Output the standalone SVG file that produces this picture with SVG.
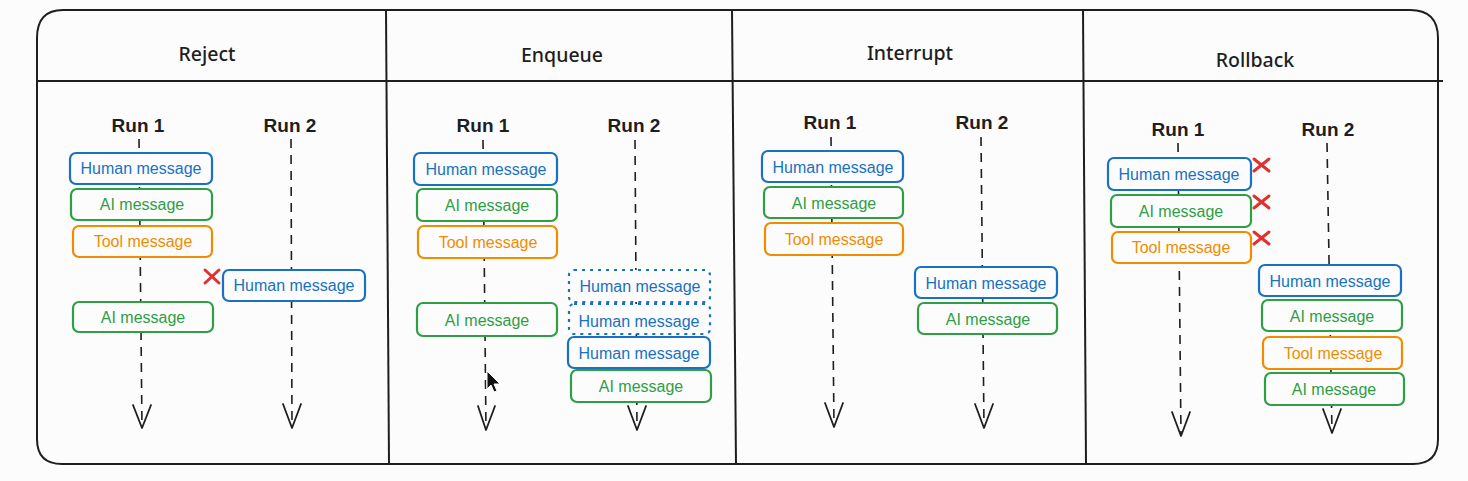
<svg xmlns="http://www.w3.org/2000/svg" width="1468" height="481" viewBox="0 0 1468 481">
<style>
.frame{fill:none;stroke:#1e1e1e;stroke-width:2}
.hdr{font-family:"Noto Sans","Liberation Sans",sans-serif;font-size:19.5px;font-weight:500;fill:#1e1e1e;text-anchor:middle;dominant-baseline:central}
.run{font-family:"Liberation Sans",Arial,sans-serif;font-weight:bold;font-size:19px;fill:#1e1e1e;text-anchor:middle;dominant-baseline:central}
.msg{font-family:"Liberation Sans",Arial,sans-serif;font-size:16px;text-anchor:middle;dominant-baseline:central}
.box{fill:#fcfcfd;stroke-width:2.2}
.h rect{stroke:#1971c2}.h text{fill:#1971c2}
.a rect{stroke:#2f9e44}.a text{fill:#2f9e44}
.t rect{stroke:#f08c00}.t text{fill:#f08c00}
.d rect{stroke:#1971c2;stroke-dasharray:3 5;stroke-width:2.2}
.life{stroke:#1e1e1e;stroke-width:1.6;stroke-dasharray:9 7;fill:none}
.head{stroke:#1e1e1e;stroke-width:1.8;fill:none;stroke-linejoin:round;stroke-linecap:round}
.x{stroke:#e03131;stroke-width:3;stroke-linecap:round}
</style>
<rect width="1468" height="481" fill="#fcfcfd"/>
<g id="frame">
<path class="frame" d="M63 10 H1410 Q1438 10 1438 38 V439 Q1438 464 1413 464 H62 Q37 464 37 439 V38 Q37 10 63 10 Z"/>
<line class="frame" x1="37" y1="81" x2="1443" y2="81"/>
<line class="frame" x1="386" y1="10" x2="389" y2="464"/>
<line class="frame" x1="732" y1="10" x2="736" y2="464"/>
<line class="frame" x1="1083" y1="10" x2="1086" y2="464"/>
<text class="hdr" x="207" y="53">Reject</text>
<text class="hdr" x="562" y="54">Enqueue</text>
<text class="hdr" x="910" y="52">Interrupt</text>
<text class="hdr" x="1255" y="59">Rollback</text>
</g>
<g id="connectors">
<line class="life" x1="139" y1="139" x2="142" y2="428"/>
<polyline class="head" points="133,405 142,428 151,405"/>
<line class="life" x1="291" y1="139" x2="292" y2="428"/>
<polyline class="head" points="283,404 292,428 301,404"/>
<line class="life" x1="483" y1="140" x2="486" y2="430"/>
<polyline class="head" points="478,406 486,430 495,406"/>
<line class="life" x1="635" y1="140" x2="637" y2="430"/>
<polyline class="head" points="628,406 637,430 646,406"/>
<line class="life" x1="831" y1="137" x2="834" y2="427"/>
<polyline class="head" points="825,403 834,427 843,403"/>
<line class="life" x1="981" y1="137" x2="984" y2="428"/>
<polyline class="head" points="975,404 984,428 993,404"/>
<line class="life" x1="1178" y1="143" x2="1181" y2="436"/>
<polyline class="head" points="1172,412 1181,436 1190,412"/>
<line class="life" x1="1327" y1="143" x2="1332" y2="433"/>
<polyline class="head" points="1323,409 1332,433 1341,409"/>
</g>
<g id="run-labels">
<text class="run" x="138" y="125">Run 1</text>
<text class="run" x="290" y="125">Run 2</text>
<text class="run" x="483" y="125">Run 1</text>
<text class="run" x="634" y="125">Run 2</text>
<text class="run" x="830" y="122">Run 1</text>
<text class="run" x="982" y="122">Run 2</text>
<text class="run" x="1178" y="129">Run 1</text>
<text class="run" x="1328" y="129">Run 2</text>
</g>
<!-- Reject -->
<g id="rej-r1-human" class="h"><rect class="box" x="70" y="153" width="142" height="31" rx="6"/><text class="msg" x="141" y="168">Human message</text></g>
<g id="rej-r1-ai" class="a"><rect class="box" x="71" y="189" width="141" height="31" rx="6"/><text class="msg" x="142" y="204">AI message</text></g>
<g id="rej-r1-tool" class="t"><rect class="box" x="73" y="226" width="139" height="31" rx="6"/><text class="msg" x="143" y="241">Tool message</text></g>
<g id="rej-r1-ai2" class="a"><rect class="box" x="73" y="302" width="140" height="30" rx="6"/><text class="msg" x="143" y="317">AI message</text></g>
<g id="rej-r2-human" class="h"><rect class="box" x="223" y="270" width="142" height="31" rx="6"/><text class="msg" x="294" y="285">Human message</text></g>
<g id="rej-x"><line class="x" x1="205" y1="270" x2="219" y2="283"/><line class="x" x1="205" y1="283" x2="219" y2="270"/></g>
<!-- Enqueue -->
<g id="enq-r1-human" class="h"><rect class="box" x="414" y="153" width="143" height="32" rx="6"/><text class="msg" x="486" y="169">Human message</text></g>
<g id="enq-r1-ai" class="a"><rect class="box" x="417" y="189" width="140" height="32" rx="6"/><text class="msg" x="487" y="205">AI message</text></g>
<g id="enq-r1-tool" class="t"><rect class="box" x="418" y="226" width="139" height="32" rx="6"/><text class="msg" x="488" y="242">Tool message</text></g>
<g id="enq-r1-ai2" class="a"><rect class="box" x="417" y="303" width="140" height="33" rx="6"/><text class="msg" x="487" y="320">AI message</text></g>
<g id="enq-r2-human-q1" class="d"><rect x="569" y="270" width="141" height="32" rx="5" fill="#fcfcfd"/><text class="msg" x="640" y="286" fill="#1971c2">Human message</text></g>
<g id="enq-r2-human-q2" class="d"><rect x="569" y="304" width="141" height="30" rx="5" fill="#fcfcfd"/><text class="msg" x="639" y="321" fill="#1971c2">Human message</text></g>
<g id="enq-r2-human" class="h"><rect class="box" x="568" y="337" width="142" height="31" rx="6"/><text class="msg" x="639" y="353">Human message</text></g>
<g id="enq-r2-ai" class="a"><rect class="box" x="571" y="370" width="140" height="32" rx="6"/><text class="msg" x="641" y="386">AI message</text></g>
<g id="cursor"><path d="M487 371 V389 L491 385 L494 392 L497 391 L494 384 L500 384 Z" fill="#111" stroke="#fff" stroke-width="1"/></g>
<!-- Interrupt -->
<g id="int-r1-human" class="h"><rect class="box" x="762" y="151" width="141" height="31" rx="6"/><text class="msg" x="833" y="167">Human message</text></g>
<g id="int-r1-ai" class="a"><rect class="box" x="764" y="187" width="139" height="31" rx="6"/><text class="msg" x="834" y="203">AI message</text></g>
<g id="int-r1-tool" class="t"><rect class="box" x="765" y="223" width="138" height="32" rx="6"/><text class="msg" x="834" y="239">Tool message</text></g>
<g id="int-r2-human" class="h"><rect class="box" x="915" y="267" width="142" height="31" rx="6"/><text class="msg" x="986" y="283">Human message</text></g>
<g id="int-r2-ai" class="a"><rect class="box" x="918" y="303" width="139" height="31" rx="6"/><text class="msg" x="988" y="319">AI message</text></g>
<!-- Rollback -->
<g id="rb-r1-human" class="h"><rect class="box" x="1108" y="158" width="143" height="32" rx="6"/><text class="msg" x="1179" y="174">Human message</text></g>
<g id="rb-r1-ai" class="a"><rect class="box" x="1111" y="195" width="140" height="32" rx="6"/><text class="msg" x="1181" y="211">AI message</text></g>
<g id="rb-r1-tool" class="t"><rect class="box" x="1112" y="232" width="139" height="31" rx="6"/><text class="msg" x="1181" y="247">Tool message</text></g>
<g id="rb-x"><line class="x" x1="1254" y1="159" x2="1269" y2="171"/><line class="x" x1="1254" y1="171" x2="1269" y2="159"/><line class="x" x1="1254" y1="196" x2="1269" y2="208"/><line class="x" x1="1254" y1="208" x2="1269" y2="196"/><line class="x" x1="1254" y1="232" x2="1269" y2="244"/><line class="x" x1="1254" y1="244" x2="1269" y2="232"/></g>
<g id="rb-r2-human" class="h"><rect class="box" x="1259" y="265" width="142" height="31" rx="6"/><text class="msg" x="1330" y="281">Human message</text></g>
<g id="rb-r2-ai" class="a"><rect class="box" x="1262" y="300" width="140" height="31" rx="6"/><text class="msg" x="1332" y="316">AI message</text></g>
<g id="rb-r2-tool" class="t"><rect class="box" x="1263" y="337" width="139" height="32" rx="6"/><text class="msg" x="1333" y="353">Tool message</text></g>
<g id="rb-r2-ai2" class="a"><rect class="box" x="1265" y="373" width="139" height="32" rx="6"/><text class="msg" x="1334" y="389">AI message</text></g>
</svg>
